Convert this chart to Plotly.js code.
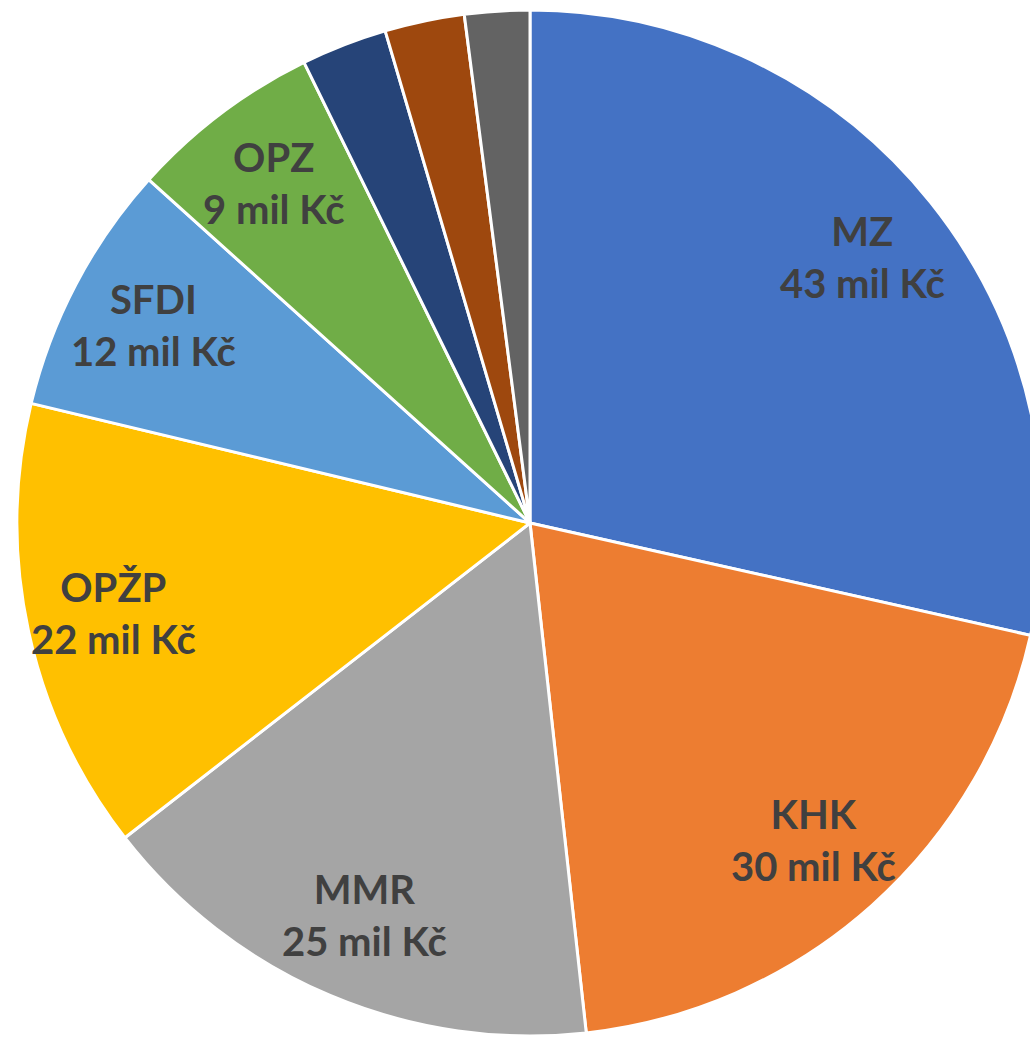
<!DOCTYPE html>
<html>
<head>
<meta charset="utf-8">
<script src="https://cdn.plot.ly/plotly-3.0.1.min.js"></script>
<style>
html,body{margin:0;padding:0;background:#fff;overflow:hidden;}
#chart{width:1060px;height:1038px;}
</style>
</head>
<body>
<div id="chart"></div>
<script>
// Data (mil Kč), clockwise from 12 o'clock
const categories = ["MZ", "KHK", "MMR", "OPŽP", "SFDI", "OPZ", "Další 1", "Další 2", "Další 3"];
const values = [43.2, 29.9, 24.6, 21.6, 12.0, 9.2, 4.1, 3.8, 3.1];
const showLabel = [true, true, true, true, true, true, false, false, false];
const colors = ["#4472C4", "#ED7D31", "#A5A5A5", "#FFC000", "#5B9BD5", "#70AD47", "#264478", "#9E480E", "#636363"];

const W = 1060, H = 1038;
const cx = 530, cy = 523, R = 513;

const trace = {
  type: 'pie',
  labels: categories,
  values: values,
  sort: false,
  direction: 'clockwise',
  rotation: 0,
  textinfo: 'none',
  hoverinfo: 'label+value',
  marker: { colors: colors, line: { color: '#ffffff', width: 3 } },
  domain: { x: [(cx - R) / W, (cx + R) / W], y: [(H - (cy + R)) / H, (H - (cy - R)) / H] },
  showlegend: false
};

// Labels placed at the mid-angle of each slice, computed from the data
const total = values.reduce((a, b) => a + b, 0);
const annotations = [];
let cum = 0;
values.forEach((v, i) => {
  const mid = (cum + v / 2) / total * 2 * Math.PI;
  cum += v;
  if (!showLabel[i]) return;
  const r = 0.83 * R;
  const px = cx + r * Math.sin(mid);
  const py = cy - r * Math.cos(mid);
  annotations.push({
    xref: 'paper', yref: 'paper',
    x: px / W, y: (H - py) / H,
    xanchor: 'center', yanchor: 'middle',
    showarrow: false,
    align: 'center',
    text: categories[i] + '<br>' + Math.round(v) + ' mil Kč',
    font: { family: 'Lato, "Open Sans", sans-serif', size: 40, color: '#404040', weight: 'bold' }
  });
});

const layout = {
  width: W, height: H,
  margin: { l: 0, r: 0, t: 0, b: 0, pad: 0 },
  paper_bgcolor: '#ffffff',
  plot_bgcolor: '#ffffff',
  showlegend: false,
  annotations: annotations
};

Plotly.newPlot('chart', [trace], layout, { displayModeBar: false, staticPlot: true });
</script>
</body>
</html>
